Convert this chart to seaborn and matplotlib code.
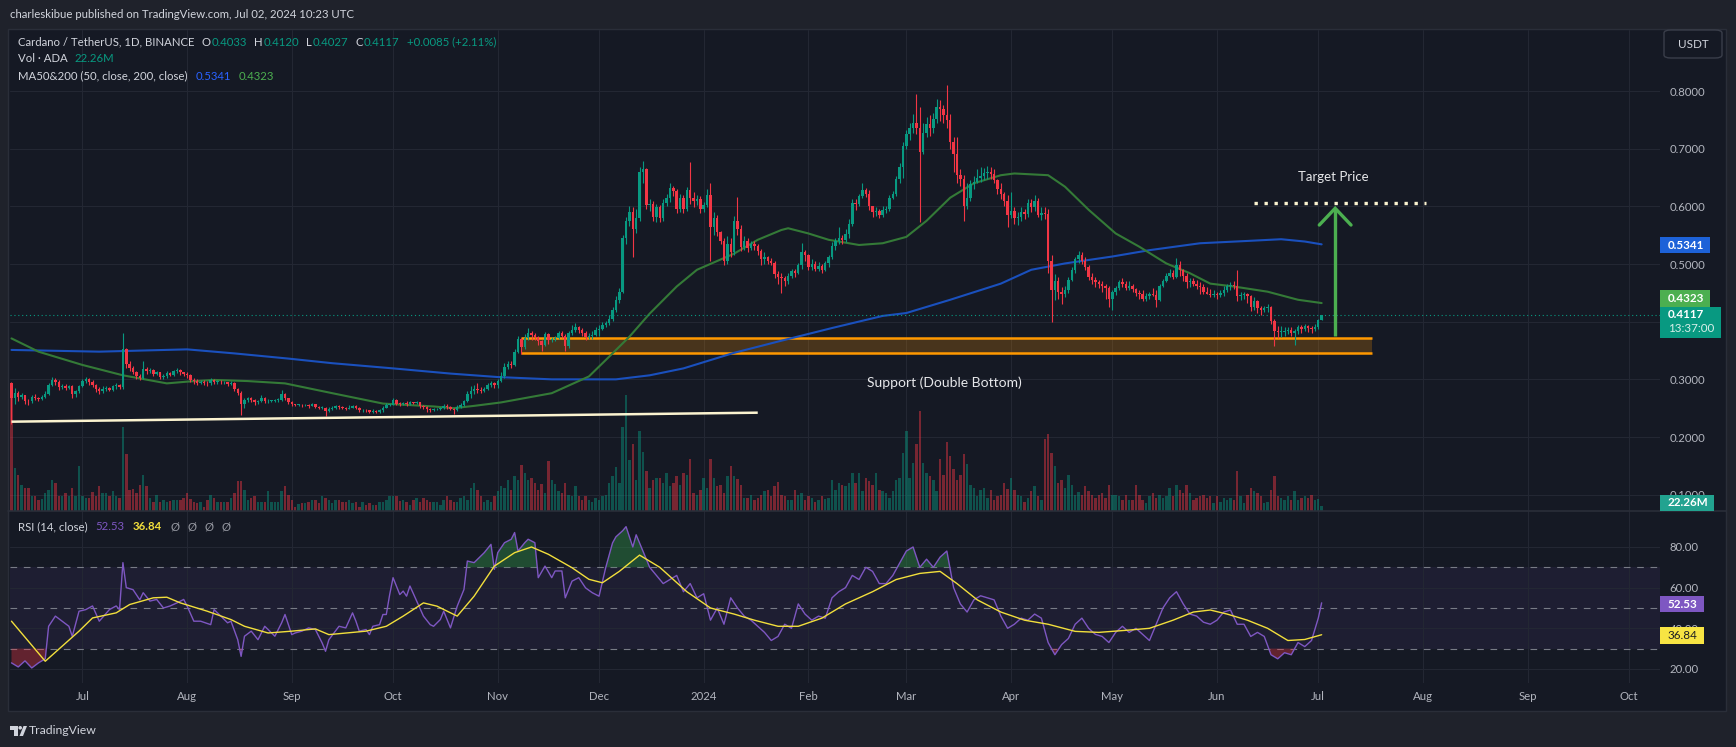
import numpy as np
import pandas as pd
import matplotlib
matplotlib.use("Agg")
import matplotlib.pyplot as plt
import matplotlib.patches as mpatches
import matplotlib.dates as mdates
from matplotlib.lines import Line2D
import seaborn as sns

# ---------------- data (ADA/USDT 1D, Binance) ----------------
start_day = "2023-06-10"
first_open = 0.2940
last_open = 0.4033

closes = [
    # Jun 2023 (10th..30th)
    0.268, 0.276, 0.270, 0.272, 0.263, 0.262, 0.270, 0.268, 0.266, 0.270, 0.275, 0.291, 0.299, 0.296, 0.286, 0.289, 0.285, 0.288, 0.274, 0.279, 0.289,
    # Jul
    0.297, 0.300, 0.295, 0.290, 0.283, 0.279, 0.284, 0.285, 0.282, 0.288, 0.290, 0.286, 0.352, 0.326, 0.320, 0.313, 0.305, 0.303, 0.318, 0.314,
    0.316, 0.309, 0.312, 0.304, 0.305, 0.311, 0.308, 0.314, 0.316, 0.312, 0.309,
    # Aug
    0.307, 0.299, 0.297, 0.294, 0.296, 0.294, 0.293, 0.298, 0.296, 0.296, 0.295, 0.295, 0.292, 0.294, 0.283, 0.277, 0.258, 0.264, 0.267, 0.265,
    0.261, 0.262, 0.268, 0.262, 0.263, 0.263, 0.264, 0.264, 0.275, 0.267, 0.261,
    # Sep
    0.257, 0.256, 0.256, 0.255, 0.256, 0.254, 0.257, 0.252, 0.251, 0.251, 0.245, 0.249, 0.250, 0.253, 0.252, 0.251, 0.249, 0.251, 0.253, 0.251,
    0.246, 0.247, 0.246, 0.244, 0.245, 0.244, 0.246, 0.251, 0.256, 0.256,
    # Oct
    0.264, 0.258, 0.257, 0.259, 0.257, 0.260, 0.259, 0.260, 0.253, 0.252, 0.248, 0.247, 0.248, 0.249, 0.250, 0.254, 0.252, 0.248, 0.247, 0.252,
    0.256, 0.262, 0.274, 0.280, 0.284, 0.281, 0.280, 0.284, 0.290, 0.293, 0.290,
    # Nov
    0.297, 0.306, 0.322, 0.326, 0.325, 0.348, 0.370, 0.356, 0.372, 0.380, 0.377, 0.373, 0.366, 0.360, 0.378, 0.368, 0.370, 0.372, 0.380, 0.376,
    0.357, 0.380, 0.386, 0.390, 0.386, 0.380, 0.373, 0.376, 0.377, 0.385,
    # Dec
    0.388, 0.395, 0.398, 0.405, 0.420, 0.438, 0.452, 0.545, 0.575, 0.590, 0.560, 0.580, 0.660, 0.664, 0.602, 0.604, 0.582, 0.598, 0.580, 0.605,
    0.615, 0.632, 0.626, 0.595, 0.615, 0.595, 0.628, 0.615, 0.610, 0.612, 0.596,
    # Jan 2024
    0.602, 0.620, 0.565, 0.580, 0.555, 0.540, 0.505, 0.535, 0.520, 0.575, 0.560, 0.530, 0.540, 0.528, 0.535, 0.532, 0.522, 0.508, 0.512, 0.506,
    0.502, 0.482, 0.478, 0.475, 0.470, 0.480, 0.488, 0.485, 0.498, 0.520, 0.515,
    # Feb
    0.495, 0.500, 0.492, 0.497, 0.490, 0.502, 0.512, 0.532, 0.540, 0.545, 0.542, 0.552, 0.570, 0.605, 0.604, 0.618, 0.628, 0.622, 0.600, 0.590,
    0.592, 0.585, 0.594, 0.596, 0.615, 0.622, 0.648, 0.668, 0.705,
    # Mar
    0.725, 0.735, 0.745, 0.735, 0.695, 0.728, 0.742, 0.735, 0.752, 0.772, 0.768, 0.758, 0.750, 0.712, 0.690, 0.655, 0.648, 0.600, 0.615, 0.638,
    0.643, 0.650, 0.652, 0.658, 0.660, 0.656, 0.645, 0.630, 0.622, 0.610, 0.585,
    # Apr
    0.592, 0.580, 0.582, 0.590, 0.586, 0.605, 0.598, 0.610, 0.585, 0.588, 0.587, 0.505, 0.455, 0.470, 0.452, 0.448, 0.455, 0.472, 0.490, 0.508,
    0.515, 0.505, 0.495, 0.478, 0.472, 0.468, 0.465, 0.462, 0.458, 0.440,
    # May
    0.452, 0.458, 0.468, 0.465, 0.458, 0.462, 0.456, 0.450, 0.448, 0.440, 0.445, 0.448, 0.446, 0.438, 0.462, 0.470, 0.480, 0.485, 0.478, 0.498,
    0.490, 0.480, 0.468, 0.470, 0.466, 0.462, 0.460, 0.452, 0.448, 0.446, 0.448,
    # Jun
    0.447, 0.449, 0.455, 0.462, 0.463, 0.462, 0.445, 0.446, 0.448, 0.444, 0.426, 0.435, 0.423, 0.420, 0.423, 0.425, 0.401, 0.383, 0.382, 0.382,
    0.384, 0.386, 0.381, 0.383, 0.390, 0.387, 0.392, 0.389, 0.387, 0.391,
    # Jul 1-2
    0.4032, 0.4117,
]

highs = [
    0.296, 0.285, 0.279, 0.277, 0.273, 0.266, 0.273, 0.274, 0.270, 0.273, 0.279, 0.294, 0.304, 0.302, 0.298, 0.292, 0.292, 0.291, 0.290, 0.282, 0.291,
    0.301, 0.304, 0.302, 0.298, 0.292, 0.287, 0.288, 0.289, 0.287, 0.291, 0.294, 0.292, 0.380, 0.355, 0.331, 0.323, 0.315, 0.309, 0.331, 0.322,
    0.320, 0.318, 0.315, 0.313, 0.309, 0.314, 0.313, 0.317, 0.320, 0.318, 0.313,
    0.313, 0.309, 0.302, 0.300, 0.298, 0.298, 0.297, 0.302, 0.301, 0.299, 0.298, 0.297, 0.296, 0.297, 0.296, 0.285, 0.279, 0.268, 0.270, 0.269,
    0.266, 0.265, 0.272, 0.270, 0.266, 0.265, 0.266, 0.267, 0.281, 0.277, 0.268,
    0.262, 0.258, 0.258, 0.258, 0.258, 0.258, 0.259, 0.258, 0.253, 0.253, 0.252, 0.252, 0.253, 0.256, 0.255, 0.253, 0.252, 0.255, 0.256, 0.256,
    0.252, 0.249, 0.248, 0.247, 0.248, 0.247, 0.249, 0.253, 0.259, 0.258,
    0.267, 0.266, 0.260, 0.261, 0.262, 0.262, 0.261, 0.262, 0.261, 0.255, 0.254, 0.250, 0.250, 0.251, 0.252, 0.258, 0.257, 0.254, 0.250, 0.256,
    0.259, 0.265, 0.280, 0.288, 0.291, 0.293, 0.286, 0.287, 0.294, 0.297, 0.296,
    0.300, 0.312, 0.328, 0.332, 0.331, 0.352, 0.376, 0.372, 0.378, 0.389, 0.384, 0.380, 0.376, 0.368, 0.382, 0.380, 0.374, 0.375, 0.383, 0.384,
    0.378, 0.384, 0.394, 0.398, 0.392, 0.389, 0.383, 0.381, 0.384, 0.390,
    0.394, 0.399, 0.402, 0.412, 0.426, 0.444, 0.458, 0.550, 0.582, 0.600, 0.598, 0.595, 0.668, 0.679, 0.666, 0.612, 0.610, 0.604, 0.602, 0.612,
    0.622, 0.640, 0.636, 0.630, 0.622, 0.620, 0.633, 0.677, 0.625, 0.620, 0.618,
    0.608, 0.630, 0.640, 0.590, 0.585, 0.558, 0.545, 0.548, 0.545, 0.584, 0.617, 0.568, 0.548, 0.545, 0.540, 0.540, 0.535, 0.526, 0.520, 0.514,
    0.510, 0.505, 0.488, 0.484, 0.480, 0.485, 0.492, 0.492, 0.502, 0.536, 0.525,
    0.518, 0.508, 0.505, 0.503, 0.500, 0.506, 0.516, 0.538, 0.545, 0.565, 0.550, 0.560, 0.578, 0.612, 0.612, 0.622, 0.640, 0.632, 0.628, 0.600,
    0.598, 0.596, 0.600, 0.600, 0.620, 0.626, 0.652, 0.675, 0.712,
    0.732, 0.745, 0.760, 0.795, 0.772, 0.745, 0.755, 0.758, 0.762, 0.787, 0.785, 0.775, 0.810, 0.760, 0.720, 0.720, 0.665, 0.655, 0.640, 0.645,
    0.652, 0.665, 0.668, 0.666, 0.670, 0.668, 0.664, 0.648, 0.640, 0.625, 0.620,
    0.625, 0.598, 0.590, 0.598, 0.596, 0.612, 0.612, 0.620, 0.615, 0.598, 0.598, 0.595, 0.515, 0.482, 0.478, 0.460, 0.462, 0.478, 0.495, 0.512,
    0.522, 0.520, 0.512, 0.498, 0.485, 0.478, 0.472, 0.470, 0.465, 0.462,
    0.455, 0.462, 0.472, 0.475, 0.470, 0.470, 0.465, 0.458, 0.455, 0.455, 0.450, 0.452, 0.458, 0.455, 0.466, 0.474, 0.485, 0.492, 0.490, 0.510,
    0.505, 0.492, 0.485, 0.475, 0.475, 0.472, 0.468, 0.465, 0.460, 0.456, 0.455,
    0.452, 0.455, 0.462, 0.466, 0.468, 0.470, 0.490, 0.452, 0.452, 0.450, 0.446, 0.442, 0.438, 0.428, 0.428, 0.430, 0.428, 0.405, 0.392, 0.392,
    0.390, 0.390, 0.390, 0.388, 0.394, 0.394, 0.396, 0.395, 0.392, 0.396,
    0.405, 0.4120,
]

lows = [
    0.222, 0.258, 0.262, 0.266, 0.258, 0.256, 0.259, 0.264, 0.262, 0.264, 0.268, 0.272, 0.288, 0.290, 0.282, 0.283, 0.281, 0.283, 0.268, 0.270, 0.277,
    0.286, 0.294, 0.290, 0.287, 0.278, 0.274, 0.277, 0.280, 0.279, 0.279, 0.284, 0.283, 0.284, 0.320, 0.315, 0.309, 0.300, 0.299, 0.301, 0.310,
    0.311, 0.306, 0.307, 0.300, 0.300, 0.302, 0.305, 0.306, 0.311, 0.308, 0.305,
    0.302, 0.296, 0.292, 0.290, 0.292, 0.291, 0.289, 0.291, 0.292, 0.292, 0.292, 0.292, 0.289, 0.290, 0.280, 0.273, 0.238, 0.250, 0.260, 0.261,
    0.256, 0.258, 0.260, 0.259, 0.259, 0.260, 0.260, 0.261, 0.262, 0.265, 0.258,
    0.254, 0.254, 0.254, 0.252, 0.253, 0.251, 0.253, 0.250, 0.249, 0.249, 0.236, 0.243, 0.246, 0.248, 0.249, 0.249, 0.247, 0.248, 0.250, 0.249,
    0.244, 0.243, 0.244, 0.242, 0.241, 0.241, 0.242, 0.244, 0.250, 0.253,
    0.255, 0.256, 0.254, 0.255, 0.254, 0.256, 0.257, 0.257, 0.251, 0.249, 0.244, 0.244, 0.245, 0.246, 0.247, 0.248, 0.249, 0.246, 0.240, 0.245,
    0.251, 0.254, 0.260, 0.268, 0.275, 0.276, 0.276, 0.278, 0.282, 0.286, 0.285,
    0.285, 0.295, 0.302, 0.318, 0.320, 0.323, 0.345, 0.344, 0.352, 0.368, 0.369, 0.368, 0.360, 0.350, 0.357, 0.362, 0.364, 0.366, 0.370, 0.372,
    0.350, 0.355, 0.377, 0.382, 0.381, 0.376, 0.368, 0.370, 0.370, 0.375,
    0.376, 0.385, 0.390, 0.394, 0.402, 0.416, 0.432, 0.450, 0.535, 0.566, 0.513, 0.553, 0.574, 0.640, 0.595, 0.592, 0.574, 0.572, 0.572, 0.575,
    0.600, 0.607, 0.618, 0.588, 0.590, 0.588, 0.592, 0.604, 0.598, 0.602, 0.588,
    0.590, 0.598, 0.505, 0.550, 0.548, 0.535, 0.498, 0.500, 0.512, 0.515, 0.550, 0.522, 0.525, 0.520, 0.524, 0.524, 0.515, 0.498, 0.500, 0.500,
    0.498, 0.475, 0.465, 0.449, 0.462, 0.466, 0.475, 0.478, 0.482, 0.492, 0.505,
    0.490, 0.490, 0.488, 0.488, 0.484, 0.488, 0.495, 0.508, 0.525, 0.535, 0.535, 0.538, 0.545, 0.566, 0.594, 0.600, 0.615, 0.616, 0.593, 0.582,
    0.584, 0.579, 0.582, 0.588, 0.592, 0.612, 0.618, 0.640, 0.650,
    0.700, 0.715, 0.728, 0.725, 0.573, 0.690, 0.720, 0.722, 0.728, 0.745, 0.748, 0.745, 0.735, 0.700, 0.660, 0.640, 0.635, 0.575, 0.595, 0.610,
    0.630, 0.640, 0.642, 0.645, 0.648, 0.648, 0.640, 0.622, 0.612, 0.600, 0.565,
    0.580, 0.570, 0.568, 0.575, 0.578, 0.582, 0.590, 0.592, 0.582, 0.576, 0.578, 0.485, 0.400, 0.438, 0.440, 0.430, 0.442, 0.450, 0.470, 0.484,
    0.502, 0.500, 0.490, 0.472, 0.465, 0.460, 0.458, 0.452, 0.440, 0.426,
    0.420, 0.446, 0.455, 0.460, 0.455, 0.455, 0.452, 0.445, 0.440, 0.436, 0.436, 0.440, 0.444, 0.426, 0.436, 0.460, 0.468, 0.478, 0.474, 0.475,
    0.480, 0.470, 0.458, 0.460, 0.462, 0.456, 0.448, 0.448, 0.448, 0.443, 0.442,
    0.440, 0.442, 0.445, 0.452, 0.455, 0.456, 0.436, 0.438, 0.440, 0.432, 0.418, 0.420, 0.415, 0.412, 0.416, 0.416, 0.396, 0.357, 0.372, 0.374,
    0.376, 0.378, 0.376, 0.360, 0.378, 0.380, 0.383, 0.382, 0.381, 0.384,
    0.388, 0.4027,
]

# volume, millions of ADA
volumes = [
    540, 192, 162, 117, 102, 102, 68, 68, 50, 53, 80, 95, 140, 125, 68, 68, 80, 68, 102, 65, 200,
    65, 57, 57, 83, 65, 110, 80, 80, 65, 90, 65, 57, 372, 252, 95, 98, 80, 117, 158, 110, 57, 42, 72, 42, 50, 42, 45, 50, 50, 50, 57,
    80, 53, 42, 35, 42, 20, 50, 72, 56, 42, 42, 38, 42, 57, 80, 132, 135, 95, 50, 57, 65, 42, 42, 38, 87, 42, 42, 38, 87, 110, 72,
    50, 20, 32, 35, 35, 42, 50, 50, 35, 65, 57, 50, 35, 50, 50, 42, 42, 50, 35, 42, 20, 38, 27, 35, 27, 27, 42, 42, 50, 65,
    68, 65, 45, 50, 42, 27, 50, 57, 38, 57, 50, 42, 42, 38, 27, 50, 65, 50, 42, 42, 57, 65, 50, 102, 125, 95, 65, 42, 50, 42, 65,
    87, 110, 102, 140, 95, 155, 140, 203, 170, 140, 147, 125, 95, 122, 80, 224, 140, 120, 87, 80, 125, 72, 65, 110, 65, 50, 65, 50, 42, 57,
    50, 65, 72, 125, 155, 197, 125, 372, 515, 225, 297, 140, 357, 262, 177, 102, 140, 147, 147, 125, 167, 110, 125, 155, 117, 170, 162, 232, 80, 72, 92,
    147, 102, 230, 147, 110, 117, 80, 155, 200, 155, 143, 117, 57, 57, 72, 50, 57, 72, 87, 95, 65, 110, 128, 72, 65, 50, 50, 95, 72, 80, 47,
    65, 57, 42, 50, 65, 53, 57, 140, 95, 125, 117, 110, 125, 170, 125, 170, 87, 147, 132, 117, 170, 95, 87, 80, 57, 87, 140, 147, 260,
    357, 147, 215, 297, 443, 215, 170, 155, 140, 87, 230, 162, 305, 245, 185, 140, 162, 252, 207, 117, 102, 65, 95, 102, 57, 95, 50, 65, 72, 125, 98,
    147, 95, 72, 65, 42, 57, 87, 110, 65, 50, 320, 342, 260, 200, 125, 140, 102, 158, 117, 72, 83, 72, 113, 87, 72, 57, 72, 80, 57, 117,
    72, 72, 65, 50, 72, 50, 50, 117, 72, 50, 35, 65, 80, 57, 72, 57, 65, 102, 65, 117, 95, 80, 117, 80, 50, 57, 65, 72, 57, 65, 35,
    65, 42, 57, 50, 57, 50, 177, 65, 35, 72, 102, 87, 80, 65, 35, 42, 95, 155, 65, 57, 50, 65, 50, 87, 50, 57, 65, 57, 72, 50,
    52, 22.26,
]

# moving averages as drawn (day offset from start, value)
ma200_pts = [(0, 0.351), (26, 0.348), (52, 0.352), (66, 0.345), (82, 0.336), (95, 0.328), (113, 0.319), (130, 0.310),
             (144, 0.304), (160, 0.300), (179, 0.300), (189, 0.307), (199, 0.319), (214, 0.346), (228, 0.367), (243, 0.389),
             (258, 0.410), (265, 0.415), (278, 0.438), (293, 0.466), (302, 0.490), (312, 0.501), (326, 0.513), (337, 0.524),
             (352, 0.536), (366, 0.540), (376, 0.543), (383, 0.539), (388, 0.5341)]
ma50_pts = [(0, 0.371), (8, 0.348), (21, 0.325), (33, 0.307), (46, 0.293), (52, 0.296), (60, 0.299), (70, 0.297), (81, 0.293),
            (95, 0.276), (110, 0.258), (125, 0.253), (131, 0.250), (137, 0.254), (145, 0.260), (160, 0.276), (171, 0.305),
            (178, 0.345), (183, 0.374), (189, 0.414), (197, 0.461), (203, 0.490), (214, 0.518), (221, 0.542), (228, 0.559),
            (230, 0.562), (236, 0.553), (242, 0.542), (251, 0.533), (258, 0.536), (265, 0.547), (271, 0.575), (278, 0.615),
            (285, 0.640), (293, 0.654), (297, 0.657), (307, 0.654), (312, 0.634), (319, 0.594), (327, 0.553), (334, 0.530),
            (342, 0.501), (349, 0.484), (355, 0.466), (362, 0.461), (372, 0.452), (381, 0.438), (388, 0.4323)]

# RSI(14) and its moving average as drawn
rsi_pts = [(0, 23), (2, 21), (4, 24), (6, 20.5), (8, 23), (10, 25), (11, 41), (13, 46), (15, 43.5), (17, 41), (18, 36), (20, 48.4),
           (22, 49.2), (24, 51), (26, 43.5), (29, 49.2), (31, 51), (32, 49.2), (33, 72.3), (34, 60), (36, 59), (38, 54), (39, 57.5),
           (41, 53.4), (43, 54.2), (45, 50), (47, 51), (49, 52.5), (51, 54.2), (52, 51), (54, 43.5), (56, 43.5), (59, 41.8), (60, 49.2),
           (62, 46), (64, 42.7), (65, 43.5), (67, 34.4), (68, 26.2), (69, 36.1), (71, 38.6), (73, 34.4), (75, 41), (76, 39.4),
           (78, 36.1), (80, 42.7), (81, 46.8), (83, 36.9), (84, 37.7), (86, 38.6), (88, 40.2), (90, 39.4), (92, 32.8), (93, 28.7),
           (94, 34.4), (97, 41), (99, 40.2), (101, 47.6), (102, 43.5), (103, 38.6), (105, 39.4), (106, 36.9), (107, 41), (109, 41.8),
           (110, 46.8), (111, 46.8), (112, 56.6), (113, 64.9), (115, 56.6), (116, 58.3), (117, 55.8), (118, 60.8), (120, 53.4),
           (122, 46), (124, 41.8), (125, 41), (127, 44.3), (128, 48.4), (129, 44.3), (130, 40.2), (132, 50.9), (134, 59.1),
           (135, 73.1), (137, 72.3), (139, 75.6), (140, 77.2), (142, 81.3), (143, 69), (144, 77.2), (146, 82.1), (148, 83.8),
           (149, 87.1), (150, 78), (152, 82.1), (153, 83.8), (155, 82.1), (156, 64.9), (158, 70.6), (160, 64.9), (161, 68.2),
           (163, 68.2), (164, 55), (166, 63.2), (168, 64.9), (170, 59.9), (172, 57.5), (174, 55.8),
           (176, 70), (178, 82), (179, 85), (181, 88), (182, 90), (184, 80), (185, 86), (187, 78), (189, 70), (191, 66), (193, 62),
           (195, 64), (197, 66), (199, 58), (201, 62), (203, 55), (205, 57), (207, 44), (209, 50), (211, 42), (213, 55), (215, 50),
           (217, 46), (219, 44), (221, 41), (223, 38), (225, 34), (227, 36), (229, 42), (231, 40), (233, 52), (235, 47), (237, 44),
           (239, 46), (241, 45), (243, 55), (245, 58), (247, 60), (249, 66), (251, 64), (253, 70), (255, 68), (257, 62), (259, 62),
           (261, 66), (263, 72), (265, 78), (267, 80), (269, 70), (271, 74), (273, 70), (275, 75), (277, 78), (279, 60), (281, 52),
           (283, 48), (285, 54), (287, 56), (289, 55), (291, 54), (293, 46), (295, 40), (297, 42), (299, 45), (301, 44), (303, 47),
           (305, 45), (307, 33), (309, 27), (311, 32), (313, 35), (315, 42), (317, 45), (319, 40), (321, 37), (323, 36), (325, 33),
           (327, 38), (329, 41), (331, 38), (333, 40), (335, 37), (337, 34), (339, 42), (341, 50), (343, 55), (345, 58), (347, 52),
           (349, 47), (351, 46), (353, 43), (355, 42), (357, 44), (359, 48), (361, 49), (363, 42), (365, 42), (367, 36), (369, 38),
           (371, 36), (373, 27), (375, 25), (377, 28), (379, 27), (381, 33), (383, 31), (385, 34), (387, 45), (388, 52.53)]
rsi_ma_pts = [(0, 43.5), (10, 23.8), (20, 38.6), (24, 45.1), (31, 47.6), (35, 51.7), (42, 55), (46, 55.3), (50, 52.5), (58, 48.4),
              (65, 44.3), (69, 41), (76, 37.7), (83, 38.6), (90, 39.7), (94, 36.9), (105, 38.6), (111, 41), (116, 46), (122, 52.5),
              (126, 50.9), (132, 46), (137, 55.8), (143, 70.6), (149, 77.2), (154, 80), (159, 76.4), (166, 69.8), (171, 64.1),
              (175, 62.4), (180, 68), (186, 76), (192, 70), (200, 58), (207, 50), (214, 47), (220, 44), (227, 41), (233, 41),
              (240, 45), (247, 52), (255, 58), (262, 64), (269, 67), (275, 68), (280, 62), (286, 54), (293, 48), (300, 44),
              (307, 42), (315, 38.5), (322, 38), (330, 39), (337, 40), (344, 44), (350, 48), (355, 49), (360, 47), (366, 44),
              (372, 40), (378, 34), (383, 34.5), (388, 36.84)]

# drawings on the chart
support_band = ("2023-11-08", "2024-07-17", 0.3457, 0.3712)
trend_line = (("2023-06-10", 0.2266), ("2024-01-17", 0.2422))
target_line = ("2024-06-12", "2024-08-02", 0.6053)
arrow_day, arrow_from, arrow_to = "2024-07-06", 0.3757, 0.5966

# ---------------- style ----------------
W, H = 1736, 747
OUTER = "#1f222b"
BG = "#151924"
GRID = "#232733"
TXT = "#d1d4dc"
AXTXT = "#b2b5be"
UP = "#089981"
DOWN = "#f23645"

sns.set_theme(style="dark")
plt.rcParams["font.family"] = ["Lato", "DejaVu Sans"]

n = min(len(closes), len(highs), len(lows), len(volumes))
t0 = pd.Timestamp(start_day)
x = mdates.date2num(pd.date_range(t0, periods=n, freq="D"))
x0 = mdates.date2num(t0)
c = np.array(closes[:n])
o = np.array([first_open] + closes[:n - 1])
o[-1] = last_open
hi = np.maximum(np.array(highs[:n]), np.maximum(o, c))
lo = np.minimum(np.array(lows[:n]), np.minimum(o, c))
cols = np.where(c >= o, UP, DOWN)


def frac(xp, yp):
    return (xp / W, 1 - yp / H)


def rect(x0p, y0p, x1p, y1p):
    return [x0p / W, 1 - y1p / H, (x1p - x0p) / W, (y1p - y0p) / H]


fig = plt.figure(figsize=(W / 100, H / 100), dpi=100, facecolor=OUTER)
fig.add_artist(mpatches.Rectangle(frac(8, 711), 1718 / W, 682 / H, transform=fig.transFigure,
                                  facecolor=BG, edgecolor="#2a2e39", lw=1, zorder=-5))

ax = fig.add_axes(rect(10, 30, 1660, 511))
ax_rsi = fig.add_axes(rect(10, 511, 1660, 683), sharex=ax)
for a in (ax, ax_rsi):
    a.set_facecolor("none")
    for s in a.spines.values():
        s.set_visible(False)

# ---- price pane ----
ax.bar(x, np.array(volumes[:n]) / 2140.0, width=0.72, bottom=0, color=cols, alpha=0.45, linewidth=0,
       transform=ax.get_xaxis_transform(), zorder=1)

b0, b1, bp0, bp1 = support_band
bx0, bx1 = mdates.date2num(pd.Timestamp(b0)), mdates.date2num(pd.Timestamp(b1))
ax.add_patch(mpatches.Rectangle((bx0, bp0), bx1 - bx0, bp1 - bp0, facecolor="#ff9800", alpha=0.22, lw=0, zorder=1.5))
ax.hlines([bp0, bp1], bx0, bx1, colors="#ff9800", lw=1.8, zorder=1.6)

ma50 = pd.DataFrame({"x": x0 + np.array([p[0] for p in ma50_pts], float), "v": [p[1] for p in ma50_pts]})
ma200 = pd.DataFrame({"x": x0 + np.array([p[0] for p in ma200_pts], float), "v": [p[1] for p in ma200_pts]})
sns.lineplot(data=ma200, x="x", y="v", ax=ax, color="#1a50bd", lw=1.5, zorder=2, legend=False)
sns.lineplot(data=ma50, x="x", y="v", ax=ax, color="#347a37", lw=1.5, zorder=2, legend=False)

ax.vlines(x, lo, hi, colors=cols, lw=0.8, zorder=3)
ax.bar(x, np.maximum(np.abs(c - o), 0.0012), bottom=np.minimum(o, c), width=0.72, color=cols, linewidth=0, zorder=4)

(tl0, tp0), (tl1, tp1) = trend_line
ax.plot([mdates.date2num(pd.Timestamp(tl0)), mdates.date2num(pd.Timestamp(tl1))], [tp0, tp1],
        color="#fbf3d0", lw=1.8, zorder=5, solid_capstyle="butt")

g0, g1, gp = target_line
ax.plot([mdates.date2num(pd.Timestamp(g0)), mdates.date2num(pd.Timestamp(g1))], [gp, gp],
        color="#fbf3d0", lw=2.4, ls=(0, (1, 2)), zorder=5)

xa = mdates.date2num(pd.Timestamp(arrow_day))
ax.plot([xa, xa], [arrow_from, arrow_to], color="#4caf50", lw=2.4, zorder=5, solid_capstyle="butt")
ax.plot([xa - 4.7, xa, xa + 4.7], [arrow_to - 0.029, arrow_to, arrow_to - 0.029], color="#4caf50", lw=2.4, zorder=5,
        solid_joinstyle="miter")

ax.text(x0 + 276.4, 0.2937, "Support (Double Bottom)", color="#e6e7ea", fontsize=10, ha="center", va="center", zorder=6)
ax.text(x0 + 391.6, 0.651, "Target Price", color="#e6e7ea", fontsize=9.5, ha="center", va="center", zorder=6)

ax.axhline(c[-1], color=UP, lw=0.8, ls=(0, (1, 2.5)), zorder=2)

price_ticks = np.round(np.arange(0.1, 0.81, 0.1), 1)
ax.set_ylim(0.0717, 0.9058)
ax.set_yticks(price_ticks)
# 0.4000 sits fully under the last-price tag, as on the original
ax.set_yticklabels(["" if abs(v - 0.4) < 1e-9 else f"{v:.4f}" for v in price_ticks])
ax.yaxis.tick_right()
ax.tick_params(axis="y", length=0, pad=7, labelcolor=AXTXT, labelsize=8.2)
ax.tick_params(axis="x", length=0, labelbottom=False)
ax.grid(True, color=GRID, lw=0.8)
ax.set_axisbelow(True)
ax.set_xlabel("")
ax.set_ylabel("")

# ---- RSI pane ----
rsi = pd.DataFrame({"x": x0 + np.array([p[0] for p in rsi_pts], float), "v": [p[1] for p in rsi_pts]})
rsi_ma = pd.DataFrame({"x": x0 + np.array([p[0] for p in rsi_ma_pts], float), "v": [p[1] for p in rsi_ma_pts]})
ax_rsi.axhspan(30, 70, color="#7e57c2", alpha=0.09, lw=0, zorder=0.5)
for lvl in (70, 50, 30):
    ax_rsi.axhline(lvl, color="#787b86", lw=0.8, ls=(0, (6, 6)), zorder=0.8)
ax_rsi.fill_between(rsi["x"], 70, rsi["v"], where=rsi["v"] > 70, interpolate=True, color="#2e8b45", alpha=0.45, lw=0, zorder=1)
ax_rsi.fill_between(rsi["x"], 30, rsi["v"], where=rsi["v"] < 30, interpolate=True, color="#f23645", alpha=0.35, lw=0, zorder=1)
sns.lineplot(data=rsi, x="x", y="v", ax=ax_rsi, color="#7e57c2", lw=1.0, zorder=3, legend=False)
sns.lineplot(data=rsi_ma, x="x", y="v", ax=ax_rsi, color="#f2df3c", lw=1.0, zorder=3, legend=False)

ax_rsi.set_ylim(13.1, 97.7)
ax_rsi.set_yticks([20, 40, 60, 80])
ax_rsi.set_yticklabels([f"{v:.2f}" for v in (20, 40, 60, 80)])
ax_rsi.yaxis.tick_right()
ax_rsi.tick_params(axis="y", length=0, pad=7, labelcolor=AXTXT, labelsize=8.2)
months = pd.date_range("2023-07-01", "2024-10-01", freq="MS")
ax_rsi.set_xticks(mdates.date2num(months))
ax_rsi.set_xticklabels(["2024" if m.month == 1 else m.strftime("%b") for m in months])
ax_rsi.tick_params(axis="x", length=0, pad=6, labelcolor=AXTXT, labelsize=8.2)
ax_rsi.grid(True, color=GRID, lw=0.8)
ax_rsi.set_axisbelow(True)
ax_rsi.set_xlabel("")
ax_rsi.set_ylabel("")
ax_rsi.set_xlim(x0 - 0.44, x0 + 488.2)

fig.add_artist(Line2D([8 / W, 1726 / W], [1 - 511 / H, 1 - 511 / H], transform=fig.transFigure, color="#2a2e39", lw=1.2))

# ---- texts ----
renderer = fig.canvas.get_renderer()


def runs(xp, yp, parts, size=8.2):
    for txt, color, gap, weight in parts:
        t = fig.text(xp / W, 1 - yp / H, txt, color=color, fontsize=size, fontweight=weight, ha="left", va="center")
        xp += t.get_window_extent(renderer).width + gap


chg = c[-1] - c[-2]
fig.text(10 / W, 1 - 14 / H, "charleskibue published on TradingView.com, Jul 02, 2024 10:23 UTC",
         color=TXT, fontsize=8.2, ha="left", va="center")
runs(18, 42, [("Cardano / TetherUS, 1D, BINANCE", TXT, 7, "normal"),
              ("O", TXT, 1, "normal"), (f"{o[-1]:.4f}", UP, 7, "normal"),
              ("H", TXT, 1, "normal"), (f"{hi[-1]:.4f}", UP, 7, "normal"),
              ("L", TXT, 1, "normal"), (f"{lo[-1]:.4f}", UP, 7, "normal"),
              ("C", TXT, 1, "normal"), (f"{c[-1]:.4f}", UP, 7, "normal"),
              (f"+{chg:.4f} (+{chg / c[-2] * 100:.2f}%)", UP, 0, "normal")])
runs(18, 59, [("Vol · ADA", TXT, 7, "normal"), (f"{volumes[n - 1]:.2f}M", UP, 0, "normal")])
runs(18, 76, [("MA50&200 (50, close, 200, close)", TXT, 8, "normal"),
              (f"{ma200_pts[-1][1]:.4f}", "#2962ff", 8, "normal"), (f"{ma50_pts[-1][1]:.4f}", "#4caf50", 0, "normal")])
runs(18, 527, [("RSI (14, close)", TXT, 8, "normal"), (f"{rsi_pts[-1][1]:.2f}", "#7e57c2", 8, "normal"),
               (f"{rsi_ma_pts[-1][1]:.2f}", "#f2df3c", 9, "bold"),
               ("Ø", "#9598a1", 8, "normal"), ("Ø", "#9598a1", 8, "normal"), ("Ø", "#9598a1", 8, "normal"),
               ("Ø", "#9598a1", 0, "normal")])


def tag(y0p, y1p, x1p, color, label, tcolor="white", weight="bold", sub=None):
    fig.add_artist(mpatches.Rectangle(frac(1660, y1p), (x1p - 1660) / W, (y1p - y0p) / H, transform=fig.transFigure,
                                      facecolor=color, edgecolor="none", zorder=5))
    if sub is None:
        fig.text(1668 / W, 1 - (y0p + y1p) / 2 / H, label, color=tcolor, fontsize=8.4, fontweight=weight,
                 ha="left", va="center", zorder=6)
    else:
        fig.text(1668 / W, 1 - (y0p + 8) / H, label, color=tcolor, fontsize=8.4, fontweight=weight,
                 ha="left", va="center", zorder=6)
        fig.text(1668 / W, 1 - (y0p + 22) / H, sub, color="#d8efe9", fontsize=8.4, ha="left", va="center", zorder=6)


tag(237, 253, 1710, "#1d62d8", f"{ma200_pts[-1][1]:.4f}")
tag(290, 307, 1710, "#4caf50", f"{ma50_pts[-1][1]:.4f}")
tag(307, 338, 1721, "#089981", f"{c[-1]:.4f}", sub="13:37:00")
tag(495, 511, 1714, "#22a390", f"{volumes[n - 1]:.2f}M")
tag(596, 612, 1704, "#7e57c2", f"{rsi_pts[-1][1]:.2f}")
tag(627, 644, 1704, "#f7e443", f"{rsi_ma_pts[-1][1]:.2f}", tcolor="#1b1d24", weight="normal")

fig.add_artist(mpatches.FancyBboxPatch(frac(1664, 58), 58 / W, 28 / H, boxstyle="round,pad=0,rounding_size=0.004",
                                       transform=fig.transFigure, facecolor=BG, edgecolor="#3a3e4a", lw=1, zorder=5))
fig.text(1693 / W, 1 - 44 / H, "USDT", color=TXT, fontsize=8.4, ha="center", va="center", zorder=6)

# footer logo
fig.add_artist(mpatches.Rectangle(frac(10, 729.5), 7.5 / W, 3.5 / H, transform=fig.transFigure, facecolor=TXT, lw=0))
fig.add_artist(mpatches.Rectangle(frac(14, 736), 3.5 / W, 10 / H, transform=fig.transFigure, facecolor=TXT, lw=0))
fig.add_artist(mpatches.Ellipse(frac(20.2, 727.8), 3.6 / W, 3.6 / H, transform=fig.transFigure, facecolor=TXT, lw=0))
fig.add_artist(mpatches.Polygon([frac(19.5, 736), frac(23.5, 726), frac(27, 726), frac(23, 736)], closed=True,
                                transform=fig.transFigure, facecolor=TXT, lw=0))
fig.text(29 / W, 1 - 731 / H, "TradingView", color=TXT, fontsize=8.8, ha="left", va="center")

fig.savefig("out.png", dpi=100, facecolor=OUTER)
